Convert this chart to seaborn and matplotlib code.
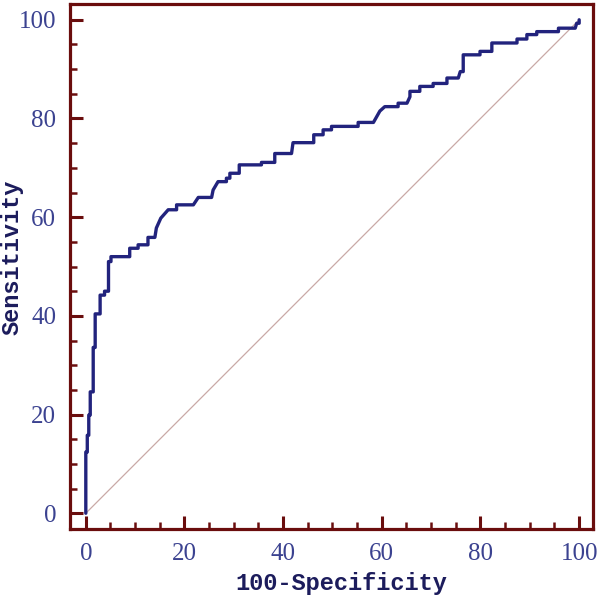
import numpy as np
import pandas as pd
import matplotlib
matplotlib.use("Agg")
import matplotlib.pyplot as plt
import seaborn as sns
from matplotlib.ticker import MultipleLocator

# ROC-кривая: вершины ступенчатой линии (100-Specificity, Sensitivity)
fpr = [0, 0, 0.3, 0.3, 0.6, 0.6, 0.9, 0.9, 1.5, 1.5, 1.9, 1.9, 2.9, 2.9,
       3.8, 3.8, 4.6, 4.6, 5.1, 5.1, 8.9, 8.9, 10.6, 10.6, 12.6, 12.6,
       14.0, 14.3, 15.2, 16.7, 18.4, 18.4, 21.8, 22.8, 25.5, 25.8, 26.8,
       28.5, 28.5, 29.2, 29.2, 31.1, 31.1, 35.6, 35.6, 38.3, 38.3, 41.7,
       42.0, 46.2, 46.2, 48.1, 48.1, 49.8, 49.8, 55.2, 55.2, 58.3, 59.6,
       60.6, 63.3, 63.3, 65.1, 65.7, 65.7, 67.7, 67.7, 70.4, 70.4, 73.2,
       73.2, 75.5, 75.9, 76.5, 76.5, 79.9, 79.9, 82.3, 82.3, 87.4, 87.4,
       89.4, 89.4, 91.4, 91.4, 95.8, 95.8, 99.2, 99.5, 100, 100]
tpr = [0, 12.4, 12.4, 15.8, 15.8, 19.9, 19.9, 24.6, 24.6, 33.6, 33.6, 40.4,
       40.4, 44.2, 44.2, 45.0, 45.0, 51.0, 51.0, 52.0, 52.0, 53.7, 53.7,
       54.4, 54.4, 55.9, 55.9, 57.8, 59.8, 61.5, 61.5, 62.5, 62.5, 64.0,
       64.0, 65.5, 67.2, 67.2, 67.9, 67.9, 68.9, 68.9, 70.6, 70.6, 71.1,
       71.1, 72.9, 72.9, 75.1, 75.1, 76.7, 76.7, 77.7, 77.7, 78.4, 78.4,
       79.2, 79.2, 81.5, 82.4, 82.4, 83.1, 83.1, 84.4, 85.5, 85.5, 86.5,
       86.5, 87.1, 87.1, 88.2, 88.2, 89.5, 89.5, 92.9, 92.9, 93.6, 93.6,
       95.3, 95.3, 96.1, 96.1, 97.0, 97.0, 97.6, 97.6, 98.3, 98.3, 99.3,
       99.3, 100]
diag = [0, 100]

frame_col = "#6a0d0d"
curve_col = "#22237d"
tick_col = "#3b4290"
label_col = "#1c1c5c"

sns.set_style("white")
fig = plt.figure(figsize=(6.0, 6.06), dpi=100)
ax = fig.add_axes([0.1167, 0.127, 0.8716, 0.8664])

df = pd.DataFrame({"x": fpr, "y": tpr})
sns.lineplot(x=diag, y=diag, ax=ax, color="#c9a9a6", linewidth=0.9)
sns.lineplot(data=df, x="x", y="y", ax=ax, sort=False, estimator=None,
             color=curve_col, linewidth=2.4)

ax.set_xlim(-3.2, 102.8)
ax.set_ylim(-3.2, 103.2)
ax.set_xticks([0, 20, 40, 60, 80, 100])
ax.set_yticks([0, 20, 40, 60, 80, 100])
ax.xaxis.set_minor_locator(MultipleLocator(5))
ax.yaxis.set_minor_locator(MultipleLocator(5))
ax.tick_params(which="major", direction="in", length=9.5, width=2.2,
               color=frame_col, labelcolor=tick_col, labelsize=18, pad=10,
               bottom=True, left=True, top=False, right=False)
ax.tick_params(which="minor", direction="in", length=5, width=1.8,
               color=frame_col, bottom=True, left=True, top=False, right=False)
for lab in ax.get_xticklabels() + ax.get_yticklabels():
    lab.set_family("Liberation Serif")

for sp in ax.spines.values():
    sp.set_color(frame_col)
    sp.set_linewidth(2.3)

ax.set_xlabel("100-Specificity", family="Liberation Mono", fontweight="bold",
              fontsize=17, color=label_col)
ax.set_ylabel("Sensitivity", family="Liberation Mono", fontweight="bold",
              fontsize=17, color=label_col)
ax.xaxis.set_label_coords(0.518, -0.082)
ax.yaxis.set_label_coords(-0.088, 0.518)

fig.savefig("out.png", dpi=100)
